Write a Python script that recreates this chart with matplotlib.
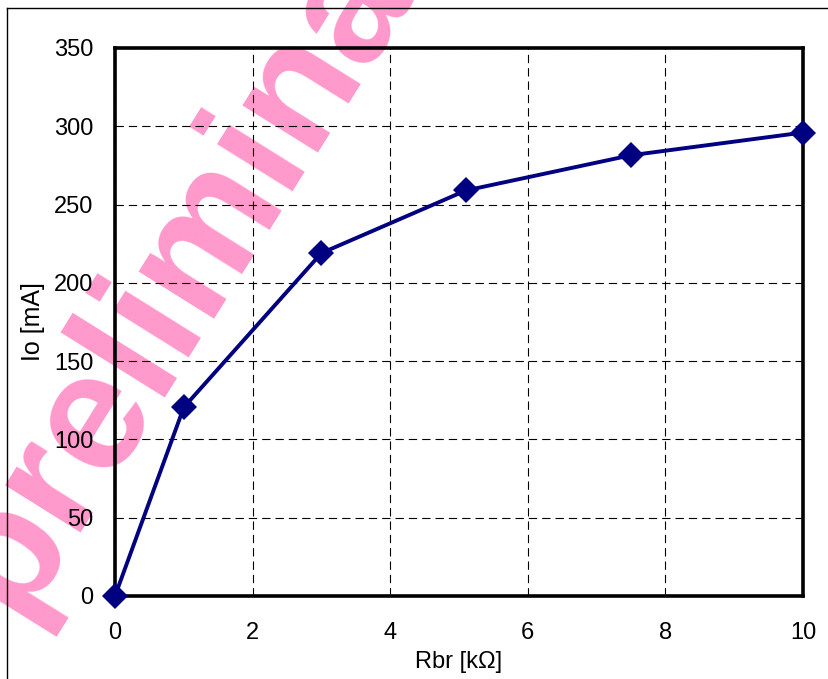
import matplotlib
matplotlib.use("Agg")
import matplotlib.pyplot as plt
from matplotlib.lines import Line2D

# Data
rbr_kohm = [0, 1, 3, 5.1, 7.5, 10]
io_ma = [0, 120.5, 219, 259, 281.5, 296]
x_ticks = [0, 2, 4, 6, 8, 10]
y_ticks = [0, 50, 100, 150, 200, 250, 300, 350]
x_label = "Rbr [kΩ]"
y_label = "Io [mA]"
watermark = "preliminary"

plt.rcParams['font.family'] = ['Liberation Sans', 'DejaVu Sans']
plt.rcParams['lines.scale_dashes'] = False

W, H = 829, 679
fig = plt.figure(figsize=(W / 100, H / 100), dpi=100)
fig.patch.set_facecolor('white')

left, right, top, bottom = 115, 803, 48, 596
ax = fig.add_axes([left / W, 1 - bottom / H, (right - left) / W, (bottom - top) / H])
ax.patch.set_visible(False)

# watermark beneath everything
fig.text(16 / W, 1 - 618 / H, watermark, rotation=58, rotation_mode='anchor',
         ha='left', va='baseline', fontsize=121, fontweight='bold',
         color='#FF99CC', zorder=-10)

ax.plot(rbr_kohm, io_ma, color='#000080', lw=2.8, marker='D', ms=13,
        markeredgewidth=0, zorder=5, clip_on=False)

ax.set_xlim(0, 10)
ax.set_ylim(0, 350)
ax.set_xticks(x_ticks)
ax.set_yticks(y_ticks)
ax.set_xticklabels([str(v) for v in x_ticks])
ax.set_yticklabels([str(v) for v in y_ticks])
ax.tick_params(axis='both', length=0, labelsize=17, colors='black')
ax.tick_params(axis='y', pad=15.5)
ax.tick_params(axis='x', pad=19)

ax.grid(True, color='black', lw=0.8, linestyle=(0, (6, 3.6)))
ax.set_axisbelow(True)
for s in ax.spines.values():
    s.set_linewidth(2.6)
    s.set_color('black')
    s.set_zorder(4)

ax.set_xlabel(x_label, fontsize=17)
ax.set_ylabel(y_label, fontsize=18)
ax.xaxis.set_label_coords(0.5, -(651 - bottom) / (bottom - top))
ax.yaxis.set_label_coords((45 - left) / (right - left), 0.5)

# outer frame (thin) extending beyond right/bottom edges
fig.add_artist(Line2D([7.5 / W, 1.0], [1 - 7.5 / H, 1 - 7.5 / H], color='black', lw=1.0,
                      transform=fig.transFigure, zorder=5))
fig.add_artist(Line2D([7.5 / W, 7.5 / W], [0.0, 1 - 7.5 / H], color='black', lw=1.0,
                      transform=fig.transFigure, zorder=5))

fig.savefig("out.png", dpi=100)
